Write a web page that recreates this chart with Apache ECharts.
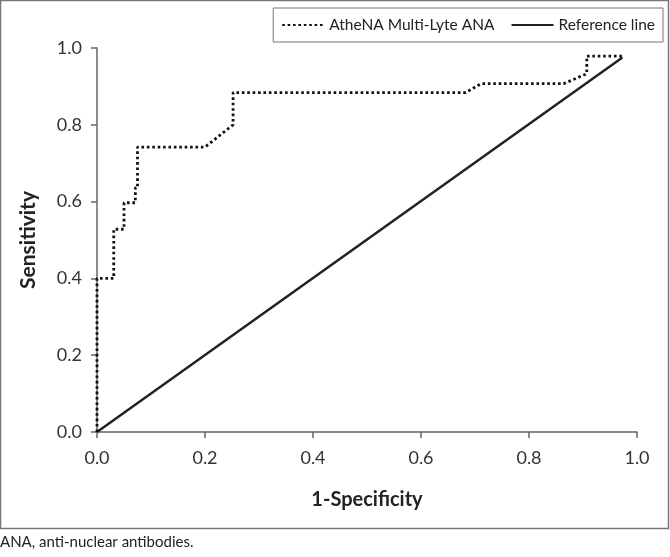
<!DOCTYPE html>
<html>
<head>
<meta charset="utf-8">
<script src="https://cdn.jsdelivr.net/npm/echarts@6/dist/echarts.min.js"></script>
<style>
  html, body { margin: 0; padding: 0; background: #fff; }
  #chart { width: 670px; height: 557px; }
</style>
</head>
<body>
<div id="chart"></div>
<script>
  // ROC curve points: [1-specificity, sensitivity]
  var rocFpr = [0, 0, 0.031, 0.031, 0.05, 0.05, 0.071, 0.071, 0.075, 0.075, 0.2, 0.252, 0.252, 0.683, 0.711, 0.864, 0.907, 0.907, 0.973]
  var rocTpr = [0, 0.4, 0.4, 0.528, 0.528, 0.597, 0.597, 0.636, 0.636, 0.742, 0.742, 0.8, 0.884, 0.884, 0.907, 0.907, 0.933, 0.979, 0.979]
  var refX = [0, 0.973]
  var refY = [0, 0.975]
  var tickLabels = ['0.0', '0.2', '0.4', '0.6', '0.8', '1.0']

  var font = 'Lato'
  var axisColor = '#666'

  function pairs (xs, ys) {
    return xs.map(function (x, i) { return [x, ys[i]] })
  }

  function valueAxis (name, gap, nameSize, labelMargin) {
    return {
      type: 'value',
      min: 0,
      max: 1,
      interval: 0.2,
      name: name,
      nameLocation: 'middle',
      nameGap: gap,
      nameTextStyle: { fontFamily: font, fontSize: nameSize, fontWeight: 'bold', color: '#222' },
      axisLine: { show: true, lineStyle: { color: axisColor, width: 1.5 } },
      axisTick: { show: true, length: 6, lineStyle: { color: axisColor, width: 1.5 } },
      axisLabel: {
        fontFamily: font,
        fontSize: 18,
        color: '#333',
        margin: labelMargin,
        formatter: function (v) { return tickLabels[Math.round(v / 0.2)] }
      },
      splitLine: { show: false }
    }
  }

  var chart = echarts.init(document.getElementById('chart'))
  chart.setOption({
    animation: false,
    backgroundColor: '#fff',
    grid: { left: 97, right: 33, top: 48, bottom: 125 },
    xAxis: valueAxis('1-Specificity', 58, 20, 17),
    yAxis: valueAxis('Sensitivity', 58, 21, 15),
    legend: {
      top: 8,
      right: 7,
      padding: [9, 8, 9, 8],
      borderColor: '#777',
      borderWidth: 1,
      itemWidth: 42,
      itemHeight: 10,
      itemGap: 16,
      itemStyle: { opacity: 0 },
      textStyle: { fontFamily: font, fontSize: 15.5, color: '#222' },
      data: ['AtheNA Multi-Lyte ANA', 'Reference line']
    },
    graphic: [
      {
        type: 'rect',
        shape: { x: 0.5, y: 0.5, width: 668, height: 528 },
        style: { fill: null, stroke: '#777', lineWidth: 1.5 },
        silent: true
      },
      {
        type: 'text',
        left: 0,
        top: 535,
        style: { text: 'ANA, anti-nuclear antibodies.', fontFamily: font, fontSize: 15, fill: '#222' }
      }
    ],
    series: [
      {
        name: 'AtheNA Multi-Lyte ANA',
        type: 'line',
        symbol: 'none',
        data: pairs(rocFpr, rocTpr),
        lineStyle: { color: '#111', width: 2.8, type: [2.6, 2.8] },
        itemStyle: { color: '#111' },
        z: 3
      },
      {
        name: 'Reference line',
        type: 'line',
        symbol: 'none',
        data: pairs(refX, refY),
        lineStyle: { color: '#222', width: 2.5 },
        itemStyle: { color: '#222' },
        z: 2
      }
    ]
  })
</script>
</body>
</html>
